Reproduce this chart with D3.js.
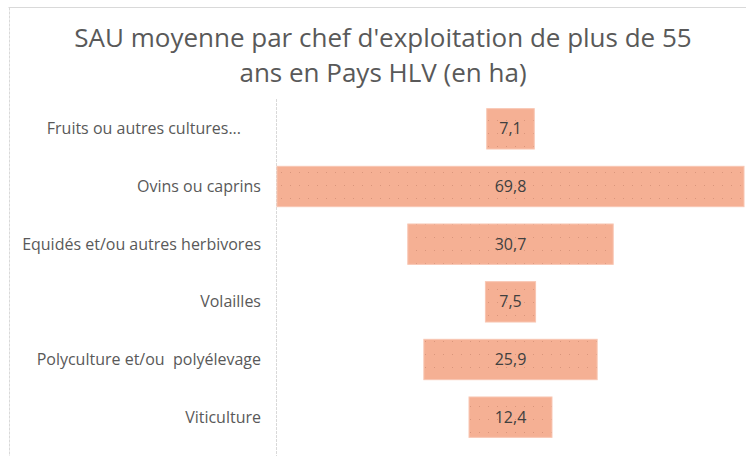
<!DOCTYPE html>
<html>
<head>
<meta charset="utf-8">
<script src="https://cdn.jsdelivr.net/npm/d3@7"></script>
<style>
  body { margin: 0; background: #fff; }
  svg { display: block; }
</style>
</head>
<body>
<div id="chart"></div>
<script>
var titleLines = ["SAU moyenne par chef d'exploitation de plus de 55", "ans en Pays HLV (en ha)"];
var categories = ["Fruits ou autres cultures...", "Ovins ou caprins", "Equidés et/ou autres herbivores",
  "Volailles", "Polyculture et/ou  polyélevage", "Viticulture"];
var values = [7.1, 69.8, 30.7, 7.5, 25.9, 12.4];
var valueLabels = ["7,1", "69,8", "30,7", "7,5", "25,9", "12,4"];

var W = 746, H = 456;
var font = "'Open Sans', Lato, sans-serif";
var svg = d3.select("#chart").append("svg").attr("width", W).attr("height", H);

// dotted texture like the office fill
var defs = svg.append("defs");
var pat = defs.append("pattern").attr("id", "dots")
  .attr("width", 9).attr("height", 13).attr("patternUnits", "userSpaceOnUse");
pat.append("rect").attr("width", 9).attr("height", 13).attr("fill", "#f5b094");
pat.append("rect").attr("x", 2).attr("y", 3).attr("width", 1).attr("height", 1).attr("fill", "#d9957b");

// chart frame (top and left edges visible)
svg.append("line").attr("x1", 8.5).attr("x2", W).attr("y1", 7.5).attr("y2", 7.5)
  .attr("stroke", "#d9d9d9");
svg.append("line").attr("x1", 9.5).attr("x2", 9.5).attr("y1", 7.5).attr("y2", H)
  .attr("stroke", "#d9d9d9").attr("stroke-dasharray", "3,1");

svg.append("g").selectAll("text").data(titleLines).enter().append("text")
  .attr("x", 383).attr("y", function(d, i) { return 46.5 + i * 35.8; })
  .attr("text-anchor", "middle")
  .style("font-family", font)
  .style("font-size", "26px")
  .style("fill", "#595959")
  .text(function(d) { return d; });

var center = 510.5;
var x = d3.scaleLinear().domain([0, d3.max(values)]).range([0, 467]);
var y = d3.scaleBand().domain(categories).range([100, 446]).paddingInner(0.3).paddingOuter(0.15);

svg.append("line").attr("x1", 276.5).attr("x2", 276.5).attr("y1", 99).attr("y2", H)
  .attr("stroke", "#d9d9d9").attr("stroke-dasharray", "3,1");

svg.append("g").selectAll("rect").data(values).enter().append("rect")
  .attr("x", function(d) { return center - x(d) / 2; })
  .attr("y", function(d, i) { return y(categories[i]); })
  .attr("width", function(d) { return x(d); })
  .attr("height", y.bandwidth())
  .attr("fill", "url(#dots)")
  .attr("stroke", "#f8c6b2").attr("stroke-width", 1);

svg.append("g").selectAll("text").data(valueLabels).enter().append("text")
  .attr("x", center)
  .attr("y", function(d, i) { return y(categories[i]) + y.bandwidth() / 2; })
  .attr("dy", "0.35em")
  .attr("text-anchor", "middle")
  .style("font-family", font)
  .style("font-size", "16px")
  .style("fill", "#404040")
  .text(function(d) { return d; });

// truncated labels ("...") sit a bit left of the others
svg.append("g").selectAll("text").data(categories).enter().append("text")
  .attr("x", function(d) { return /\.\.\.$/.test(d) ? 241 : 261; })
  .attr("y", function(d) { return y(d) + y.bandwidth() / 2; })
  .attr("dy", "0.35em")
  .attr("text-anchor", "end")
  .style("font-family", font)
  .style("font-size", "16px")
  .style("fill", "#595959")
  .style("white-space", "pre")
  .text(function(d) { return d; });
</script>
</body>
</html>
